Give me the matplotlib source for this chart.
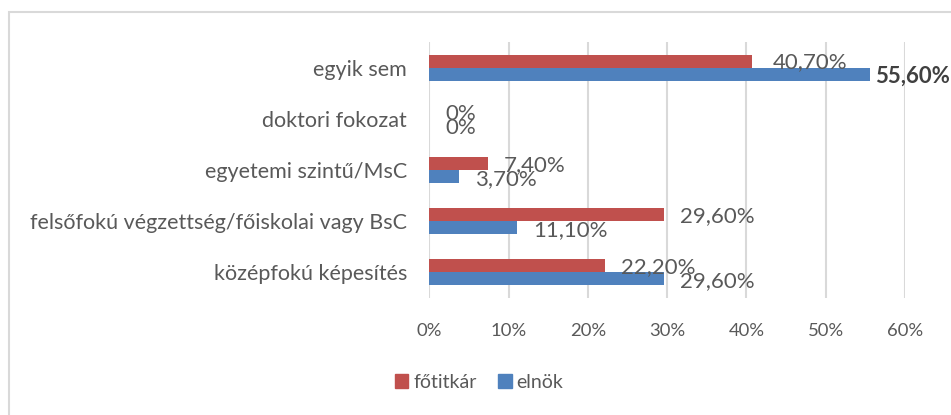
import matplotlib
matplotlib.use("Agg")
import matplotlib.pyplot as plt
from matplotlib.patches import Rectangle, Patch

categories = ["egyik sem", "doktori fokozat", "egyetemi szintű/MsC",
              "felsőfokú végzettség/főiskolai vagy BsC", "középfokú képesítés"]
fotitkar = [40.7, 0.0, 7.4, 29.6, 22.2]
elnok = [55.6, 0.0, 3.7, 11.1, 29.6]
series_names = ["főtitkár", "elnök"]
xticks = [0, 10, 20, 30, 40, 50, 60]

RED = "#C0504D"
BLUE = "#4F81BD"
TXT = "#595959"
GRID = "#D9D9D9"
FONT = ["Lato", "DejaVu Sans"]

plt.rcParams["font.family"] = FONT

fig = plt.figure(figsize=(9.51, 4.15), dpi=100)
ax = fig.add_axes([429.3 / 951, 1 - 297.5 / 415, (905 - 429.3) / 951, (297.5 - 42) / 415])

# figure border (only left and top visible)
fig.patches.append(Rectangle((8.5 / 951, -0.2), 1.2, 1.2 - 12.5 / 415,
                             transform=fig.transFigure, fill=False,
                             edgecolor=GRID, linewidth=1.5, zorder=0))

n = len(categories)
ypos = list(range(n))
h = 0.255
y_red = [y - h / 2 for y in ypos]
y_blue = [y + h / 2 for y in ypos]
ax.barh(y_red, fotitkar, height=h, color=RED, zorder=3)
ax.barh(y_blue, elnok, height=h, color=BLUE, zorder=3)

ax.set_ylim(n - 0.5, -0.5)
ax.set_xlim(0, 60)
ax.set_xticks(xticks)
ax.set_xticklabels([f"{t}%" for t in xticks])
ax.set_yticks(ypos)
ax.set_yticklabels(categories)
ax.tick_params(axis="both", length=0, labelcolor=TXT)
ax.tick_params(axis="x", pad=18, labelsize=13.3)
ax.tick_params(axis="y", pad=16, labelsize=15.5)
for s in ax.spines.values():
    s.set_visible(False)
ax.grid(axis="x", color=GRID, linewidth=1.5, zorder=0)
ax.set_axisbelow(True)


def fmt(v):
    if v == 0:
        return "0%"
    return f"{v:.2f}".replace(".", ",") + "%"


px = 0.72  # points per pixel at dpi 100
for i in range(n):
    off_r = 21 if i == 0 else 16
    ax.annotate(fmt(fotitkar[i]), xy=(fotitkar[i], y_red[i]),
                xytext=(off_r * px, -1.5 * px), textcoords="offset points",
                ha="left", va="center", fontsize=16, color=TXT, zorder=5)
    bold = i == 0
    off_b = 5 if bold else 16
    ax.annotate(fmt(elnok[i]), xy=(elnok[i], y_blue[i]),
                xytext=(off_b * px, -2.5 * px), textcoords="offset points",
                ha="left", va="center", fontsize=16, color="#404040" if bold else TXT,
                fontweight="bold" if bold else "normal", zorder=5,
                annotation_clip=False)

handles = [Patch(color=RED), Patch(color=BLUE)]
fig.legend(handles, series_names, loc="center", bbox_to_anchor=(479 / 951, 1 - 382 / 415),
           ncol=2, frameon=False, fontsize=14, labelcolor=TXT,
           handlelength=0.7, handleheight=0.7, handletextpad=0.25, columnspacing=1.1)

fig.savefig("out.png", dpi=100)
